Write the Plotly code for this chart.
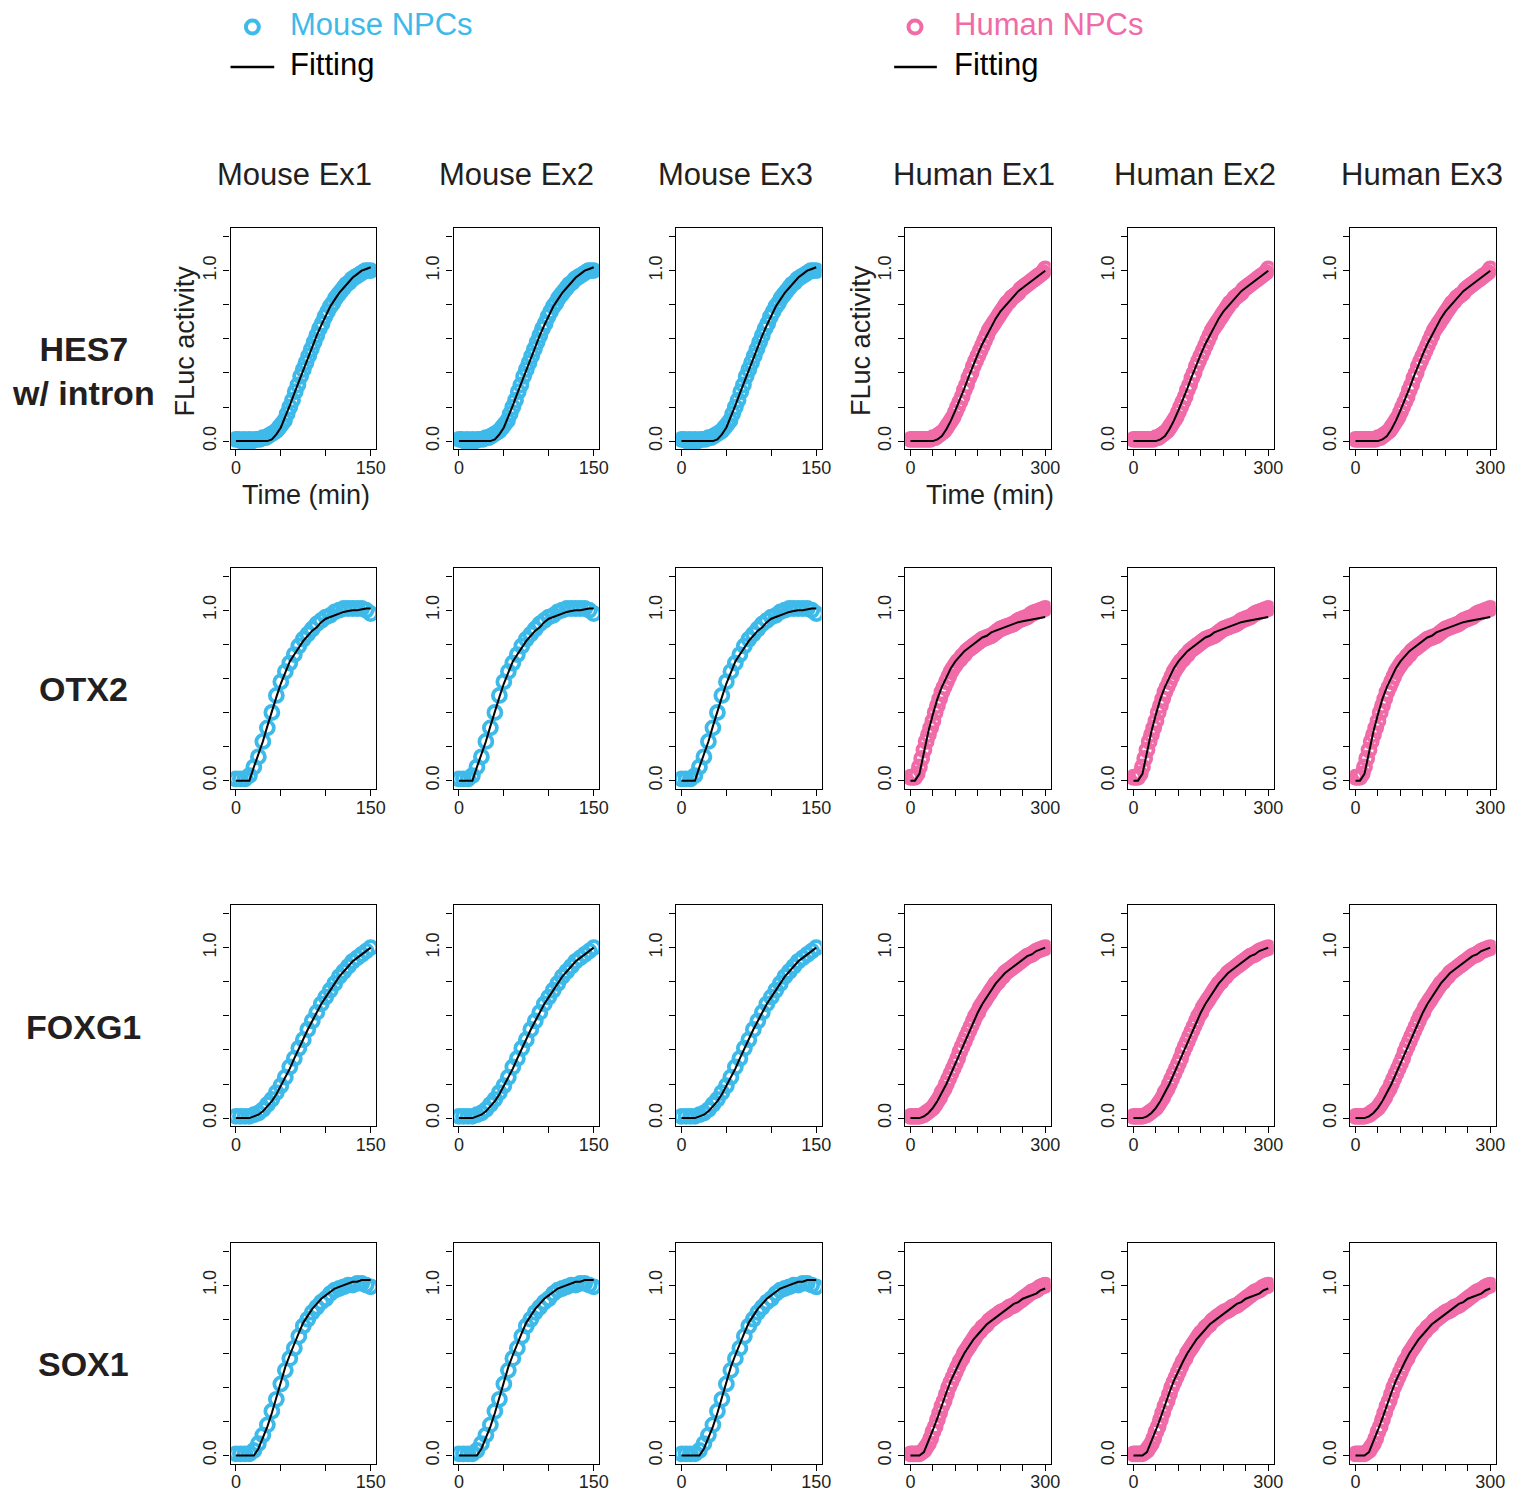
import plotly.graph_objects as go

W, H = 1537, 1492
OFF = 8  # default page body margin
FW, FH = W - 2 * OFF, H - OFF
BLUE = "#3EBAEA"
PINK = "#F06BA8"
INK = "#231F20"
FONT = "Liberation Sans, Arial, sans-serif"

# ---------------- labels ----------------
ROW_LABELS = ["<b>HES7</b><br><b>w/ intron</b>", "<b>OTX2</b>", "<b>FOXG1</b>", "<b>SOX1</b>"]
COL_TITLES = ["Mouse Ex1", "Mouse Ex2", "Mouse Ex3", "Human Ex1", "Human Ex2", "Human Ex3"]
SPECIES = ["mouse", "mouse", "mouse", "human", "human", "human"]
MOUSE_XTICKS = [0, 50, 100, 150]
MOUSE_XTEXT = ["0", "", "", "150"]
HUMAN_XTICKS = [0, 50, 100, 150, 200, 250, 300]
HUMAN_XTEXT = ["0", "", "", "", "", "", "300"]
Y_TICKS = [0.0, 0.2, 0.4, 0.6, 0.8, 1.0, 1.2]
Y_TEXT = ["0.0", "", "", "", "", "1.0", ""]

# ---------------- time grids (min) ----------------
t_mouse_3 = list(range(0, 151, 3))
t_mouse_5 = list(range(0, 151, 5))
t_human_5 = list(range(0, 301, 5))
t_human_10 = list(range(0, 301, 10))

# ---------------- mouse data / fits ----------------
hes7_mouse_data = [0.01, 0.01, 0.00, 0.01, 0.00, 0.01, 0.00, 0.01, 0.01, 0.01,
                   0.02, 0.02, 0.03, 0.04, 0.05, 0.06, 0.08, 0.10, 0.12, 0.16,
                   0.20, 0.24, 0.29, 0.33, 0.38, 0.42, 0.46, 0.50, 0.54, 0.58,
                   0.62, 0.66, 0.69, 0.73, 0.76, 0.79, 0.81, 0.84, 0.86, 0.88,
                   0.90, 0.92, 0.93, 0.95, 0.96, 0.97, 0.98, 0.99, 1.00, 1.00, 1.00]
hes7_mouse_fit = [0, 0, 0, 0, 0, 0, 0, 0, 0.01, 0.04, 0.08, 0.14, 0.21, 0.28, 0.35,
                  0.42, 0.49, 0.56, 0.62, 0.68, 0.74, 0.79, 0.83, 0.87, 0.90, 0.93,
                  0.96, 0.98, 1.00, 1.01, 1.02]

otx2_mouse_data = [0.01, 0.01, 0.01, 0.03, 0.08, 0.14, 0.23, 0.31, 0.40, 0.50, 0.58,
                   0.64, 0.69, 0.74, 0.79, 0.83, 0.86, 0.89, 0.92, 0.94, 0.96, 0.97,
                   0.99, 1.00, 1.01, 1.01, 1.01, 1.01, 1.01, 1.00, 0.98]
otx2_mouse_fit = [0, 0, 0, 0, 0.08, 0.15, 0.23, 0.32, 0.41, 0.49, 0.57, 0.64, 0.70,
                  0.74, 0.78, 0.82, 0.85, 0.88, 0.90, 0.93, 0.95, 0.96, 0.97, 0.98,
                  0.99, 0.995, 1.0, 1.0, 1.005, 1.01, 1.01]

foxg1_mouse_data = [0.01, 0.01, 0.01, 0.01, 0.02, 0.03, 0.05, 0.08, 0.11, 0.15, 0.19,
                    0.24, 0.30, 0.35, 0.41, 0.46, 0.52, 0.57, 0.62, 0.67, 0.71, 0.75,
                    0.79, 0.83, 0.86, 0.89, 0.92, 0.94, 0.96, 0.98, 1.00]
foxg1_mouse_fit = [0, 0, 0, 0, 0.01, 0.02, 0.04, 0.07, 0.10, 0.14, 0.19, 0.24, 0.29,
                   0.35, 0.41, 0.46, 0.52, 0.57, 0.62, 0.67, 0.71, 0.75, 0.79, 0.83,
                   0.86, 0.89, 0.92, 0.94, 0.96, 0.98, 1.00]

sox1_mouse_data = [0.01, 0.01, 0.01, 0.01, 0.03, 0.07, 0.12, 0.18, 0.26, 0.33, 0.42,
                   0.50, 0.57, 0.63, 0.70, 0.76, 0.80, 0.84, 0.87, 0.90, 0.92, 0.95,
                   0.97, 0.98, 0.99, 1.00, 1.00, 1.01, 1.01, 1.00, 0.99]
sox1_mouse_fit = [0, 0, 0, 0, 0, 0.04, 0.10, 0.17, 0.25, 0.34, 0.43, 0.52, 0.59,
                  0.66, 0.72, 0.78, 0.82, 0.86, 0.89, 0.92, 0.94, 0.96, 0.98, 0.99,
                  1.00, 1.01, 1.02, 1.02, 1.03, 1.03, 1.03]

# ---------------- human data (5-min) / fits (10-min) ----------------
hes7_human_data = [0.01, 0.01, 0.01, 0.01, 0.01, 0.01, 0.01, 0.01, 0.01, 0.01,
                   0.02, 0.02, 0.03, 0.04, 0.05, 0.06, 0.08, 0.10, 0.12, 0.14,
                   0.17, 0.20, 0.23, 0.26, 0.30, 0.33, 0.37, 0.40, 0.44, 0.47,
                   0.50, 0.53, 0.56, 0.59, 0.62, 0.65, 0.67, 0.69, 0.71, 0.73,
                   0.75, 0.77, 0.79, 0.81, 0.82, 0.84, 0.85, 0.86, 0.87, 0.89,
                   0.90, 0.91, 0.92, 0.93, 0.94, 0.95, 0.96, 0.97, 0.98, 0.99, 1.01]
hes7_human_fit = [0, 0, 0, 0, 0, 0, 0.01, 0.03, 0.07, 0.12, 0.18, 0.24, 0.31, 0.38,
                  0.45, 0.51, 0.57, 0.62, 0.67, 0.72, 0.76, 0.79, 0.82, 0.85, 0.88,
                  0.90, 0.92, 0.94, 0.96, 0.98, 1.00]

otx2_human_data = [0.02, 0.02, 0.02, 0.04, 0.08, 0.13, 0.18, 0.23, 0.27, 0.31,
                   0.35, 0.40, 0.44, 0.48, 0.52, 0.55, 0.58, 0.61, 0.64, 0.66,
                   0.68, 0.70, 0.71, 0.73, 0.74, 0.76, 0.77, 0.78, 0.79, 0.80,
                   0.81, 0.82, 0.83, 0.835, 0.84, 0.845, 0.85, 0.86, 0.87, 0.88,
                   0.89, 0.895, 0.90, 0.905, 0.91, 0.915, 0.92, 0.93, 0.94, 0.945,
                   0.95, 0.955, 0.96, 0.97, 0.98, 0.985, 0.99, 0.995, 1.00, 1.005, 1.01]
otx2_human_fit = [0, 0, 0.04, 0.17, 0.29, 0.39, 0.48, 0.55, 0.61, 0.66, 0.70, 0.73,
                  0.76, 0.78, 0.80, 0.82, 0.84, 0.85, 0.87, 0.88, 0.89, 0.90, 0.91,
                  0.92, 0.93, 0.935, 0.94, 0.945, 0.95, 0.955, 0.96]

foxg1_human_data = [0.01, 0.01, 0.01, 0.01, 0.01, 0.015, 0.02, 0.03, 0.04, 0.05,
                    0.06, 0.08, 0.10, 0.12, 0.15, 0.17, 0.20, 0.23, 0.26, 0.29,
                    0.32, 0.35, 0.39, 0.42, 0.45, 0.48, 0.51, 0.54, 0.57, 0.60,
                    0.62, 0.65, 0.67, 0.69, 0.71, 0.73, 0.75, 0.77, 0.79, 0.80,
                    0.82, 0.83, 0.85, 0.86, 0.87, 0.88, 0.89, 0.90, 0.91, 0.92,
                    0.93, 0.94, 0.95, 0.955, 0.96, 0.97, 0.98, 0.985, 0.99, 0.995, 1.00]
foxg1_human_fit = [0, 0, 0, 0.01, 0.03, 0.06, 0.10, 0.15, 0.20, 0.26, 0.32, 0.39,
                   0.45, 0.51, 0.57, 0.62, 0.67, 0.71, 0.75, 0.79, 0.82, 0.85, 0.87,
                   0.89, 0.91, 0.93, 0.95, 0.96, 0.98, 0.99, 1.00]

sox1_human_data = [0.01, 0.01, 0.01, 0.01, 0.01, 0.02, 0.03, 0.05, 0.07, 0.10,
                   0.14, 0.17, 0.21, 0.25, 0.29, 0.32, 0.36, 0.40, 0.43, 0.46,
                   0.49, 0.52, 0.55, 0.57, 0.60, 0.62, 0.64, 0.66, 0.68, 0.70,
                   0.72, 0.73, 0.75, 0.76, 0.77, 0.79, 0.80, 0.81, 0.82, 0.83,
                   0.84, 0.845, 0.85, 0.86, 0.87, 0.875, 0.88, 0.89, 0.90, 0.91,
                   0.92, 0.93, 0.94, 0.95, 0.96, 0.965, 0.97, 0.98, 0.99, 0.995, 1.00]
sox1_human_fit = [0, 0, 0, 0.02, 0.08, 0.15, 0.22, 0.30, 0.37, 0.44, 0.50, 0.55,
                  0.60, 0.64, 0.68, 0.71, 0.74, 0.77, 0.79, 0.81, 0.83, 0.85, 0.87,
                  0.89, 0.90, 0.92, 0.93, 0.94, 0.95, 0.97, 0.98]

# (data_t, data_y, fit_t, fit_y) per species and row
PANELS = {
    ("mouse", 0): (t_mouse_3, hes7_mouse_data, t_mouse_5, hes7_mouse_fit),
    ("mouse", 1): (t_mouse_5, otx2_mouse_data, t_mouse_5, otx2_mouse_fit),
    ("mouse", 2): (t_mouse_5, foxg1_mouse_data, t_mouse_5, foxg1_mouse_fit),
    ("mouse", 3): (t_mouse_5, sox1_mouse_data, t_mouse_5, sox1_mouse_fit),
    ("human", 0): (t_human_5, hes7_human_data, t_human_10, hes7_human_fit),
    ("human", 1): (t_human_5, otx2_human_data, t_human_10, otx2_human_fit),
    ("human", 2): (t_human_5, foxg1_human_data, t_human_10, foxg1_human_fit),
    ("human", 3): (t_human_5, sox1_human_data, t_human_10, sox1_human_fit),
}

# ---------------- layout geometry (page px) ----------------
COL_LEFT = [232, 456.5, 680.5, 911, 1135.5, 1359]
PANEL_W = 146.5
ROW_TOP = [228.7, 568.7, 906.6, 1244.5]
PANEL_H = 221.2


def px_x(p):
    return (p - OFF) / FW


def px_y(p):
    return 1 - (p - OFF) / FH


fig = go.Figure()
layout_axes = {}

for r in range(4):
    for c in range(6):
        i = r * 6 + c + 1
        sp = SPECIES[c]
        dt, dy, ft, fy = PANELS[(sp, r)]
        col = BLUE if sp == "mouse" else PINK
        xname = "x" if i == 1 else f"x{i}"
        yname = "y" if i == 1 else f"y{i}"
        fig.add_trace(go.Scatter(
            x=dt, y=dy, mode="markers", xaxis=xname, yaxis=yname,
            marker=dict(symbol="circle-open", size=13, color=col,
                        line=dict(width=3.8, color=col)),
            showlegend=False, hoverinfo="skip"))
        fig.add_trace(go.Scatter(
            x=ft, y=fy, mode="lines", xaxis=xname, yaxis=yname,
            line=dict(color="black", width=2), showlegend=False,
            hoverinfo="skip"))
        x0 = COL_LEFT[c]
        y0 = ROW_TOP[r]
        common = dict(showline=True, mirror=True, linecolor="black", linewidth=1.3,
                      ticks="outside", ticklen=6, tickwidth=1.2, tickcolor="black",
                      showgrid=False, zeroline=False,
                      tickfont=dict(family=FONT, size=18, color=INK))
        if sp == "mouse":
            xr, xt, xtt = [-6, 156], MOUSE_XTICKS, MOUSE_XTEXT
        else:
            xr, xt, xtt = [-12, 312], HUMAN_XTICKS, HUMAN_XTEXT
        layout_axes["xaxis" if i == 1 else f"xaxis{i}"] = dict(
            domain=[px_x(x0), px_x(x0 + PANEL_W)], anchor=yname, range=xr,
            tickmode="array", tickvals=xt, ticktext=xtt, ticklabelstandoff=-4,
            **common)
        layout_axes["yaxis" if i == 1 else f"yaxis{i}"] = dict(
            domain=[px_y(y0 + PANEL_H), px_y(y0)], anchor=xname,
            range=[-0.048, 1.248], tickmode="array", tickvals=Y_TICKS,
            ticktext=Y_TEXT, tickangle=-90, **common)

annotations = []
# column titles
TITLE_X = [296, 520, 740, 980, 1203, 1431]
for c, t in enumerate(COL_TITLES):
    annotations.append(dict(x=px_x(TITLE_X[c]), y=px_y(175), xref="paper", yref="paper",
                            text=t, showarrow=False, xanchor="center", yanchor="middle",
                            font=dict(family=FONT, size=31, color=INK)))
# row labels
ROW_Y = [371, 690, 1028, 1366]
for r, t in enumerate(ROW_LABELS):
    annotations.append(dict(x=px_x(84), y=px_y(ROW_Y[r]), xref="paper", yref="paper",
                            text=t, showarrow=False, xanchor="center", yanchor="middle",
                            font=dict(family=FONT, size=34, color=INK)))
# axis titles
for xc in (186, 866):
    annotations.append(dict(x=px_x(xc), y=px_y(341), xref="paper", yref="paper",
                            text="FLuc activity", textangle=-90, showarrow=False,
                            xanchor="center", yanchor="middle",
                            font=dict(family=FONT, size=27, color=INK)))
for xc in (308, 997):
    annotations.append(dict(x=px_x(xc), y=px_y(496), xref="paper", yref="paper",
                            text="Time (min)", showarrow=False,
                            xanchor="center", yanchor="middle",
                            font=dict(family=FONT, size=27, color=INK)))
# legends
LEGENDS = [("Mouse NPCs", BLUE, 254, 290, 232, 276),
           ("Human NPCs", PINK, 921, 958, 900, 943)]
shapes = []
for name, col, cx, tx, lx0, lx1 in LEGENDS:
    annotations.append(dict(x=px_x(tx), y=px_y(25), xref="paper", yref="paper",
                            text=name, showarrow=False, xanchor="left", yanchor="middle",
                            font=dict(family=FONT, size=31, color=col)))
    annotations.append(dict(x=px_x(tx), y=px_y(65), xref="paper", yref="paper",
                            text="Fitting", showarrow=False, xanchor="left", yanchor="middle",
                            font=dict(family=FONT, size=31, color="black")))
    shapes.append(dict(type="circle", xref="paper", yref="paper",
                       xsizemode="pixel", ysizemode="pixel",
                       xanchor=px_x(cx), yanchor=px_y(27),
                       x0=-6.5, x1=6.5, y0=-6.5, y1=6.5,
                       line=dict(color=col, width=4)))
    shapes.append(dict(type="line", xref="paper", yref="paper",
                       x0=px_x(lx0), x1=px_x(lx1), y0=px_y(67), y1=px_y(67),
                       line=dict(color="black", width=2.5)))

fig.update_layout(
    width=FW, height=FH, autosize=False,
    margin=dict(l=0, r=0, t=0, b=0),
    paper_bgcolor="white", plot_bgcolor="white",
    showlegend=False,
    annotations=annotations, shapes=shapes,
    **layout_axes)

fig.write_html("out.html", config={"responsive": False, "displayModeBar": False})
